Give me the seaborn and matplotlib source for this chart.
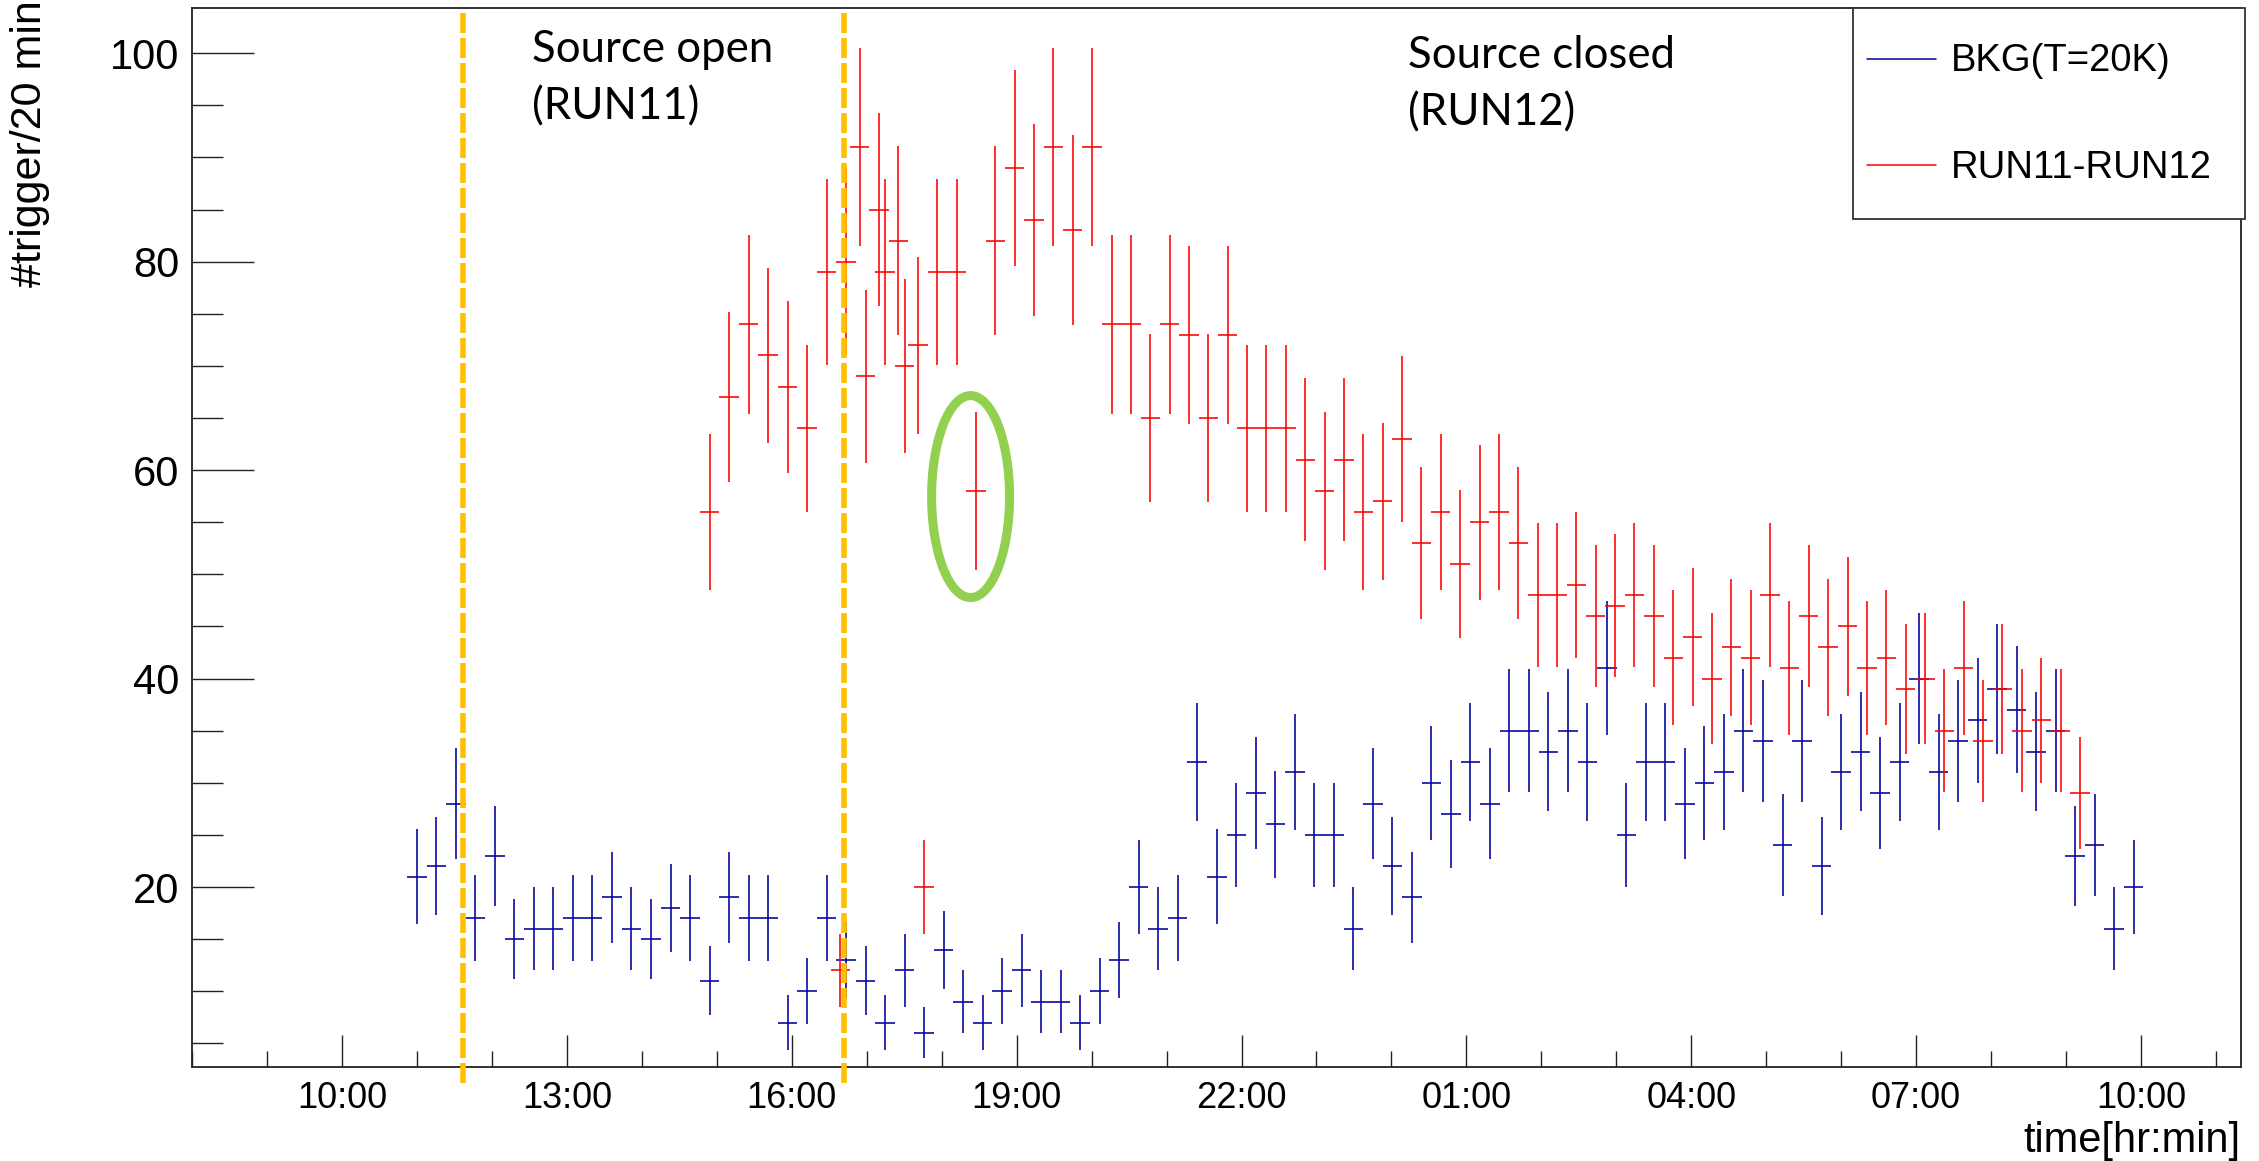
import numpy as np
import matplotlib
matplotlib.use("Agg")
import matplotlib.pyplot as plt
import seaborn as sns
from matplotlib.patches import Ellipse, Rectangle
from matplotlib.lines import Line2D
from matplotlib.ticker import MultipleLocator, FixedLocator, FuncFormatter

# ---------------------------------------------------------------- data
# Background run (T = 20 K): trigger counts per bin
bkg_start = 11.0        # bin centre of the first bin [h]
bkg_step = 0.26024      # bin width [h]
bkg_counts = [21, 22, 28, 17, 23, 15, 16, 16, 17, 17, 19, 16, 15, 18, 17,
              11, 19, 17, 17, 7, 10, 17, 13, 11, 7, 12, 6, 14, 9, 7,
              10, 12, 9, 9, 7, 10, 13, 20, 16, 17, 32, 21, 25, 29, 26,
              31, 25, 25, 16, 28, 22, 19, 30, 27, 32, 28, 35, 35, 33, 35,
              32, 41, 25, 32, 32, 28, 30, 31, 35, 34, 24, 34, 22, 31, 33,
              29, 32, 40, 31, 34, 36, 39, 37, 33, 35, 23, 24, 16, 20]

# RUN11-RUN12 difference, first block (same binning as the background)
diff_a_start = 14.904
diff_a_step = 0.26024
diff_a_counts = [56, 67, 74, 71, 68, 64, 79, 80, 69, 79, 70, 20]

# RUN11-RUN12 difference, second block
diff_b_start = 16.649
diff_b_step = 0.25837
diff_b_counts = [12, 91, 85, 82, 72, 79, 79, 58, 82, 89, 84, 91, 83, 91, 74,
                 74, 65, 74, 73, 65, 73, 64, 64, 64, 61, 58, 61, 56, 57, 63,
                 53, 56, 51, 55, 56, 53, 48, 48, 49, 46, 47, 48, 46, 42, 44,
                 40, 43, 42, 48, 41, 46, 43, 45, 41, 42, 39, 40, 35, 41, 34,
                 39, 35, 36, 35, 29]

source_open_time = 11.613   # start of RUN11
source_closed_time = 16.695  # start of RUN12

x_range = (8.0, 35.333)
y_range = (2.76, 104.37)
major_hours = [10, 13, 16, 19, 22, 25, 28, 31, 34]

# ---------------------------------------------------------------- style
sns.set_theme(style="ticks")
plt.rcParams["font.family"] = ["Liberation Sans", "DejaVu Sans"]

W, H = 2259, 1161
fig = plt.figure(figsize=(W / 100, H / 100), dpi=100)
fig.patch.set_facecolor("white")


def fx(px):
    return px / W


def fy(py):
    return 1 - py / H


ax = fig.add_axes([fx(192), fy(1066.7), fx(2241) - fx(192), fy(7.7) - fy(1066.7)])
ax.set_facecolor("white")

BLUE = "#00009C"
RED = "#FF0000"


def draw_hist(start, step, counts, color):
    counts = np.asarray(counts, dtype=float)
    centres = start + step * np.arange(len(counts))
    ax.errorbar(centres, counts, xerr=step / 2, yerr=np.sqrt(counts),
                fmt="none", ecolor=color, elinewidth=1.15, capsize=0, zorder=3)


draw_hist(bkg_start, bkg_step, bkg_counts, BLUE)
draw_hist(diff_a_start, diff_a_step, diff_a_counts, RED)
draw_hist(diff_b_start, diff_b_step, diff_b_counts, RED)

ax.set_xlim(*x_range)
ax.set_ylim(*y_range)

# axes frame and ticks
for side in ["left", "right", "top", "bottom"]:
    ax.spines[side].set_visible(True)
    ax.spines[side].set_color("#222222")
    ax.spines[side].set_linewidth(1.3)

ax.xaxis.set_major_locator(FixedLocator(major_hours))
ax.xaxis.set_minor_locator(MultipleLocator(1))
ax.xaxis.set_major_formatter(FuncFormatter(lambda h, _: f"{int(round(h)) % 24:02d}:00"))
ax.yaxis.set_major_locator(MultipleLocator(20))
ax.yaxis.set_minor_locator(MultipleLocator(5))

ax.tick_params(axis="y", which="major", direction="in", length=44.6, width=1.0,
               color="#222222", labelsize=30, pad=9, left=True, right=False)
ax.tick_params(axis="y", which="minor", direction="in", length=22.3, width=1.0,
               color="#222222", left=True, right=False)
ax.tick_params(axis="x", which="major", direction="in", length=23, width=1.0,
               color="#222222", labelsize=26, pad=10, bottom=True, top=False)
ax.tick_params(axis="x", which="minor", direction="in", length=11.5, width=1.0,
               color="#222222", bottom=True, top=False)
for lab in ax.get_xticklabels() + ax.get_yticklabels():
    lab.set_color("black")

# axis titles
fig.text(fx(10), fy(0), "#trigger/20 min", rotation=90, ha="left", va="top",
         fontsize=31, color="black")
fig.text(fx(2241), fy(1152), "time[hr:min]", ha="right", va="baseline",
         fontsize=30, color="black")

# run boundaries
for t in (source_open_time, source_closed_time):
    ax.axvline(t, ymin=-0.0155, ymax=0.998, color="#FFC000", lw=4.0,
               dashes=(3.6, 0.9), clip_on=False, zorder=6)

# highlighted point
ax.add_patch(Ellipse((18.386, 57.46), width=1.040, height=19.38, fill=False,
                     edgecolor="#92D050", lw=6.5, zorder=6))

# run annotations
note_font = dict(family=["Lato", "DejaVu Sans"], fontsize=31.5, color="black")
fig.text(fx(532), fy(62), "Source open", ha="left", va="baseline", **note_font)
fig.text(fx(532), fy(119), "(RUN11)", ha="left", va="baseline", **note_font)
fig.text(fx(1408), fy(68), "Source closed", ha="left", va="baseline", **note_font)
fig.text(fx(1408), fy(125), "(RUN12)", ha="left", va="baseline", **note_font)

# legend box
fig.add_artist(Rectangle((fx(1852.6), fy(219)), fx(2245) - fx(1852.6), fy(7.7) - fy(219),
                         transform=fig.transFigure, facecolor="white",
                         edgecolor="#333333", lw=1.3, zorder=7))
for ypix, color, label, base in [(59, BLUE, "BKG(T=20K)", 71),
                                 (165, RED, "RUN11-RUN12", 178)]:
    fig.add_artist(Line2D([fx(1867), fx(1936)], [fy(ypix), fy(ypix)],
                          transform=fig.transFigure, color=color, lw=1.1, zorder=8))
    fig.text(fx(1951), fy(base), label, ha="left", va="baseline", fontsize=27.5,
             color="black", zorder=8)

fig.savefig("out.png", dpi=100, facecolor="white")
